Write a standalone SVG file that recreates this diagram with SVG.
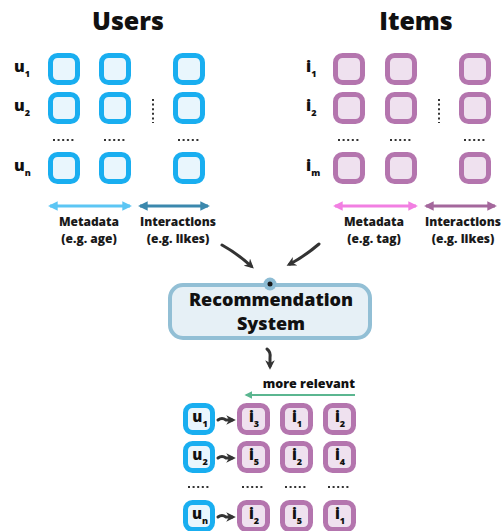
<svg xmlns="http://www.w3.org/2000/svg" width="504" height="531" viewBox="0 0 504 531">
<defs>
<style>
.t{font-family:"Open Sans","Liberation Sans",sans-serif;font-weight:800;fill:#111}
.title{font-size:25px;text-anchor:middle}
.lbl{font-size:16px}
.sub{font-size:9px}
.cap{font-size:12px;text-anchor:middle;fill:#1a1a1a}
.ub{fill:#e9f6fd;stroke:#19aef0;stroke-width:5}
.ib{fill:#efe1ef;stroke:#b475ae;stroke-width:5}
.dots{stroke:#333;stroke-width:2;stroke-dasharray:2 2.6}
.dk{fill:none;stroke:#333;stroke-width:3;stroke-linecap:round}
.sm{font-size:15px;text-anchor:middle}
</style>
<marker id="hd" viewBox="0 0 10 10" refX="6" refY="5" markerWidth="3.2" markerHeight="3.2" orient="auto-start-reverse" markerUnits="strokeWidth"><path d="M0,0 L10,5 L0,10 L3,5 z" fill="#333"/></marker>
<marker id="hlb" viewBox="0 0 10 10" refX="8" refY="5" markerWidth="3.2" markerHeight="3.2" orient="auto-start-reverse" markerUnits="strokeWidth"><path d="M0,0 L10,5 L0,10 z" fill="#5cc6f4"/></marker>
<marker id="hdb" viewBox="0 0 10 10" refX="8" refY="5" markerWidth="3.2" markerHeight="3.2" orient="auto-start-reverse" markerUnits="strokeWidth"><path d="M0,0 L10,5 L0,10 z" fill="#3b88ad"/></marker>
<marker id="hpk" viewBox="0 0 10 10" refX="8" refY="5" markerWidth="3.2" markerHeight="3.2" orient="auto-start-reverse" markerUnits="strokeWidth"><path d="M0,0 L10,5 L0,10 z" fill="#f27fe2"/></marker>
<marker id="hpu" viewBox="0 0 10 10" refX="8" refY="5" markerWidth="3.2" markerHeight="3.2" orient="auto-start-reverse" markerUnits="strokeWidth"><path d="M0,0 L10,5 L0,10 z" fill="#a4679c"/></marker>
<marker id="hgr" viewBox="0 0 10 10" refX="8" refY="5" markerWidth="3.5" markerHeight="3.5" orient="auto-start-reverse" markerUnits="strokeWidth"><path d="M0,0 L10,5 L0,10 z" fill="#5bb690"/></marker>
</defs>
<rect width="504" height="531" fill="#ffffff"/>

<g id="users">
<text class="t title" x="128" y="30">Users</text>
<text class="t lbl" x="14" y="71.5">u<tspan class="sub" dy="5">1</tspan></text>
<text class="t lbl" x="14" y="110.5">u<tspan class="sub" dy="5">2</tspan></text>
<text class="t lbl" x="14" y="171">u<tspan class="sub" dy="5">n</tspan></text>
<rect class="ub" x="50.5" y="55.5" width="27" height="27" rx="7"/>
<rect class="ub" x="101.5" y="55.5" width="27" height="27" rx="7"/>
<rect class="ub" x="175.5" y="55.5" width="27" height="27" rx="7"/>
<rect class="ub" x="50.5" y="94.5" width="27" height="27" rx="7"/>
<rect class="ub" x="101.5" y="94.5" width="27" height="27" rx="7"/>
<rect class="ub" x="175.5" y="94.5" width="27" height="27" rx="7"/>
<rect class="ub" x="50.5" y="154.5" width="27" height="27" rx="7"/>
<rect class="ub" x="101.5" y="154.5" width="27" height="27" rx="7"/>
<rect class="ub" x="175.5" y="154.5" width="27" height="27" rx="7"/>
<line class="dots" x1="53" y1="140" x2="76" y2="140"/>
<line class="dots" x1="104" y1="140" x2="127" y2="140"/>
<line class="dots" x1="178" y1="140" x2="201" y2="140"/>
<line class="dots" x1="153" y1="99" x2="153" y2="123"/>
</g>

<g id="items">
<text class="t title" x="416" y="30">Items</text>
<text class="t lbl" x="306" y="71.5">i<tspan class="sub" dy="5">1</tspan></text>
<text class="t lbl" x="306" y="110.5">i<tspan class="sub" dy="5">2</tspan></text>
<text class="t lbl" x="306" y="171">i<tspan class="sub" dy="5">m</tspan></text>
<rect class="ib" x="335.5" y="55.5" width="27" height="27" rx="7"/>
<rect class="ib" x="387.5" y="55.5" width="27" height="27" rx="7"/>
<rect class="ib" x="461.5" y="55.5" width="27" height="27" rx="7"/>
<rect class="ib" x="335.5" y="94.5" width="27" height="27" rx="7"/>
<rect class="ib" x="387.5" y="94.5" width="27" height="27" rx="7"/>
<rect class="ib" x="461.5" y="94.5" width="27" height="27" rx="7"/>
<rect class="ib" x="335.5" y="154.5" width="27" height="27" rx="7"/>
<rect class="ib" x="387.5" y="154.5" width="27" height="27" rx="7"/>
<rect class="ib" x="461.5" y="154.5" width="27" height="27" rx="7"/>
<line class="dots" x1="338" y1="140" x2="361" y2="140"/>
<line class="dots" x1="390" y1="140" x2="413" y2="140"/>
<line class="dots" x1="464" y1="140" x2="487" y2="140"/>
<line class="dots" x1="439" y1="99" x2="439" y2="123"/>
</g>

<g id="user-metadata">
<text class="t cap" x="89" y="226">Metadata<tspan x="89" y="243">(e.g. age)</tspan></text>
</g>
<g id="user-interactions">
<text class="t cap" x="178" y="226">Interactions<tspan x="178" y="243">(e.g. likes)</tspan></text>
</g>
<g id="item-metadata">
<text class="t cap" x="374" y="226">Metadata<tspan x="374" y="243">(e.g. tag)</tspan></text>
</g>
<g id="item-interactions">
<text class="t cap" x="463" y="226">Interactions<tspan x="463" y="243">(e.g. likes)</tspan></text>
</g>

<g id="recsys">
<rect x="170" y="285" width="200" height="53" rx="13" fill="#e6f0f6" stroke="#92bfd5" stroke-width="4"/>
<circle cx="270" cy="284" r="6.5" fill="#8dbcd4"/>
<circle cx="270" cy="284" r="2.5" fill="#1a1a1a"/>
<text class="t" x="271" y="306" font-size="18" text-anchor="middle" fill="#1a1a1a">Recommendation<tspan x="271" y="330">System</tspan></text>
</g>

<g id="more-relevant">
<text class="t" x="355" y="388" font-size="12.5" text-anchor="end" fill="#5bb690">more relevant</text>
</g>

<g id="results">
<rect class="ub" x="185.5" y="405.5" width="27" height="27" rx="7"/>
<rect class="ub" x="185.5" y="443.5" width="27" height="27" rx="7"/>
<rect class="ub" x="185.5" y="502.5" width="27" height="27" rx="7"/>
<rect class="ib" x="239.5" y="405.5" width="28" height="27" rx="7"/>
<rect class="ib" x="282.5" y="405.5" width="28" height="27" rx="7"/>
<rect class="ib" x="325.5" y="405.5" width="28" height="27" rx="7"/>
<rect class="ib" x="239.5" y="443.5" width="28" height="27" rx="7"/>
<rect class="ib" x="282.5" y="443.5" width="28" height="27" rx="7"/>
<rect class="ib" x="325.5" y="443.5" width="28" height="27" rx="7"/>
<rect class="ib" x="239.5" y="502.5" width="28" height="27" rx="7"/>
<rect class="ib" x="282.5" y="502.5" width="28" height="27" rx="7"/>
<rect class="ib" x="325.5" y="502.5" width="28" height="27" rx="7"/>
<text class="t sm" x="200" y="422">u<tspan class="sub" dy="5">1</tspan></text>
<text class="t sm" x="200" y="460">u<tspan class="sub" dy="5">2</tspan></text>
<text class="t sm" x="200" y="519">u<tspan class="sub" dy="5">n</tspan></text>
<text class="t sm" x="254" y="422">i<tspan class="sub" dy="5">3</tspan></text>
<text class="t sm" x="297" y="422">i<tspan class="sub" dy="5">1</tspan></text>
<text class="t sm" x="340" y="422">i<tspan class="sub" dy="5">2</tspan></text>
<text class="t sm" x="254" y="460">i<tspan class="sub" dy="5">5</tspan></text>
<text class="t sm" x="297" y="460">i<tspan class="sub" dy="5">2</tspan></text>
<text class="t sm" x="340" y="460">i<tspan class="sub" dy="5">4</tspan></text>
<text class="t sm" x="254" y="519">i<tspan class="sub" dy="5">2</tspan></text>
<text class="t sm" x="297" y="519">i<tspan class="sub" dy="5">5</tspan></text>
<text class="t sm" x="340" y="519">i<tspan class="sub" dy="5">1</tspan></text>
<line class="dots" x1="188" y1="487" x2="211" y2="487"/>
<line class="dots" x1="242" y1="487" x2="265" y2="487"/>
<line class="dots" x1="285" y1="487" x2="308" y2="487"/>
<line class="dots" x1="328" y1="487" x2="351" y2="487"/>
</g>

<g id="connectors">
<line x1="50" y1="206" x2="130" y2="206" stroke="#5cc6f4" stroke-width="3" marker-start="url(#hlb)" marker-end="url(#hlb)"/>
<line x1="140" y1="206" x2="208" y2="206" stroke="#3b88ad" stroke-width="3" marker-start="url(#hdb)" marker-end="url(#hdb)"/>
<line x1="335" y1="206" x2="416" y2="206" stroke="#f27fe2" stroke-width="3" marker-start="url(#hpk)" marker-end="url(#hpk)"/>
<line x1="426" y1="206" x2="495" y2="206" stroke="#a4679c" stroke-width="3" marker-start="url(#hpu)" marker-end="url(#hpu)"/>
<path class="dk" d="M222,245 Q238,254 251,266" marker-end="url(#hd)"/>
<path class="dk" d="M319,244 Q305,256 290,264" marker-end="url(#hd)"/>
<path class="dk" d="M267,349 Q271,352 270,358 L270,366" marker-end="url(#hd)"/>
<line x1="355" y1="395" x2="246" y2="395" stroke="#5bb690" stroke-width="2.2" marker-end="url(#hgr)"/>
<path class="dk" stroke-width="2.5" d="M218,420 Q222,417 226,420 L232,420" marker-end="url(#hd)"/>
<path class="dk" stroke-width="2.5" d="M218,458 Q222,455 226,458 L232,458" marker-end="url(#hd)"/>
<path class="dk" stroke-width="2.5" d="M218,517 Q222,514 226,517 L232,517" marker-end="url(#hd)"/>
</g>
</svg>
